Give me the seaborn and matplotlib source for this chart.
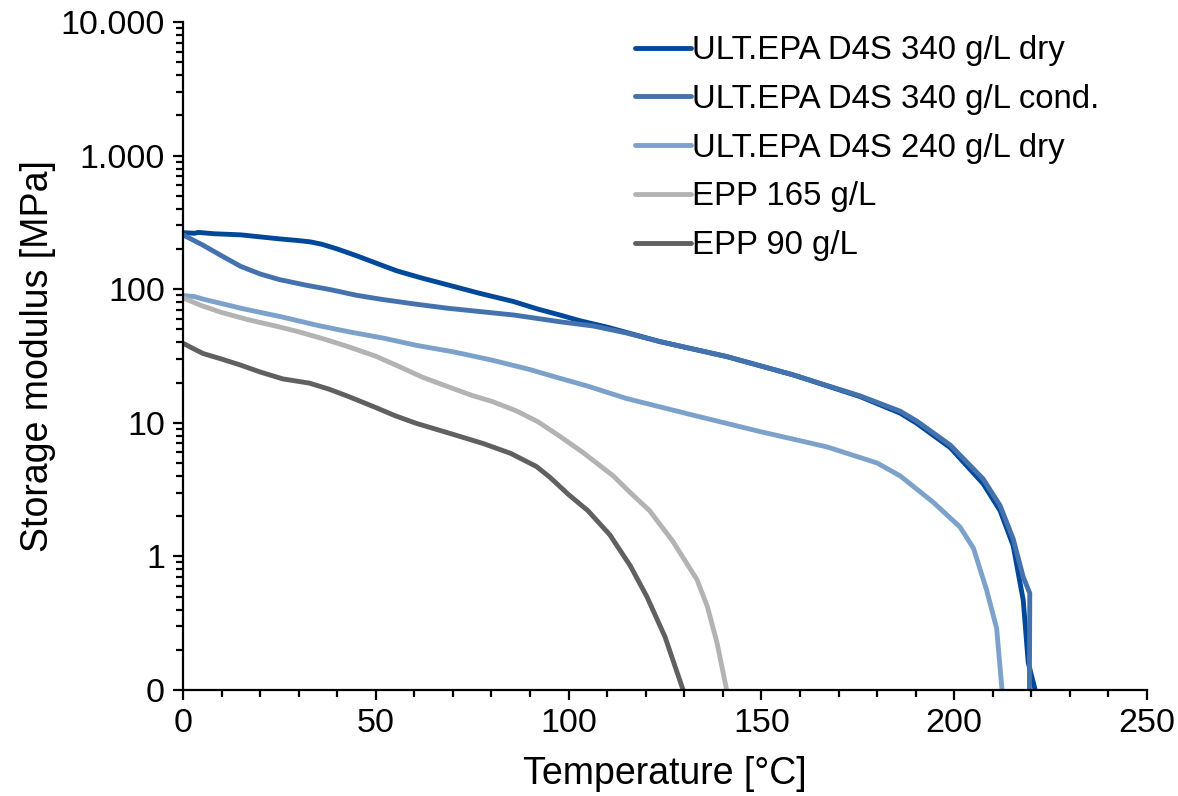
import matplotlib
matplotlib.use("Agg")
import matplotlib.pyplot as plt
import matplotlib.ticker as mticker
import seaborn as sns
import pandas as pd

# ---- data ----
series_names = [
    "ULT.EPA D4S 340 g/L dry",
    "ULT.EPA D4S 340 g/L cond.",
    "ULT.EPA D4S 240 g/L dry",
    "EPP 165 g/L",
    "EPP 90 g/L",
]
series_colors = ["#00489A", "#4472AE", "#7CA1CB", "#B3B3B3", "#606060"]

t_340_dry = [0, 3, 4, 8, 15, 25, 30, 33, 36, 40, 45, 50, 55.5, 62, 68.5, 77, 85.6, 92,
             97.8, 103, 110, 123.7, 141, 158.3, 175.6, 186, 190.3, 199, 207.5,
             211.9, 215.3, 217.9, 219.2, 221]
e_340_dry = [265, 262, 266, 260, 255, 238, 231, 226, 217, 200, 178, 157, 137, 121, 108,
             93, 81, 71, 64, 58, 52, 40.5, 31.3, 22.8, 15.7, 11.8, 9.9, 6.5, 3.5,
             2.2, 1.2, 0.47, 0.16, 0.1]

t_340_cond = [0, 5, 10, 15, 20, 25, 32, 38.4, 45, 51.4, 60, 68.6, 77, 85.9, 97.8,
              106.4, 115, 123.7, 141, 158.3, 175.6, 186, 190.3, 199, 207.5, 211.9,
              215.3, 217.9, 219.6, 219.5]
e_340_cond = [255, 215, 178, 148, 130, 118, 107, 99, 90, 84, 77.5, 72, 68, 64, 57,
              53, 47, 40.5, 31.3, 22.8, 15.9, 12.2, 10.3, 6.8, 3.8, 2.4,
              1.35, 0.7, 0.53, 0.1]

t_240_dry = [0, 3, 5, 15, 25.6, 35, 43, 52, 60.5, 70, 80, 90, 97.8, 105, 115, 132.3,
             149.6, 167, 180, 186, 194.5, 201.5, 205, 208.4, 211, 212.4]
e_240_dry = [89.6, 88, 84.6, 72, 62, 53.5, 48, 43, 38, 34, 29.5, 25, 21.5, 18.8,
             15.2, 11.4, 8.6, 6.6, 5.0, 4.0, 2.55, 1.66, 1.15, 0.56, 0.29, 0.1]

t_epp165 = [0, 5, 10, 17, 24, 30, 37, 43, 50, 56, 62, 69, 75, 80, 86.4, 92, 97.8,
            103.7, 111.6, 116, 121, 127, 133.3, 136, 138.5, 141]
e_epp165 = [86, 75, 67, 59, 53, 48, 42, 37, 31.5, 26.4, 22, 18.5, 16, 14.5, 12.3,
            10.2, 7.9, 6.0, 4.0, 3.0, 2.2, 1.3, 0.67, 0.42, 0.225, 0.1]

t_epp90 = [0, 2.6, 5.2, 10, 15, 20, 25.9, 32.8, 38, 43, 50, 55, 60.5, 70, 77.8, 85,
           91.7, 95.2, 100, 105, 110.7, 116, 120.3, 125, 129.7]
e_epp90 = [39.4, 36, 33, 30, 27, 24, 21.3, 19.8, 17.8, 15.7, 13, 11.3, 9.9, 8.2, 7.0,
           5.9, 4.7, 3.9, 2.9, 2.2, 1.45, 0.85, 0.5, 0.25, 0.1]

y_ticks = [0.1, 1, 10, 100, 1000, 10000]
y_tick_labels = ["0", "1", "10", "100", "1.000", "10.000"]
x_ticks = [0, 50, 100, 150, 200, 250]

# ---- build long-form table ----
temps = [t_340_dry, t_340_cond, t_240_dry, t_epp165, t_epp90]
mods = [e_340_dry, e_340_cond, e_240_dry, e_epp165, e_epp90]
frames = []
for name, t, e in zip(series_names, temps, mods):
    frames.append(pd.DataFrame({"Temperature": t, "Modulus": e, "Series": name}))
data = pd.concat(frames, ignore_index=True)

sns.set_style("ticks")
plt.rcParams["font.family"] = ["Liberation Sans", "DejaVu Sans"]
plt.rcParams["text.color"] = "black"
plt.rcParams["axes.labelcolor"] = "black"

fig = plt.figure(figsize=(11.78, 7.96), dpi=100)
ax = fig.add_axes([0.1553, 0.1332, 0.8184, 0.8392])

sns.lineplot(data=data, x="Temperature", y="Modulus", hue="Series",
             hue_order=series_names, palette=dict(zip(series_names, series_colors)),
             sort=False, estimator=None, units="Series", linewidth=3.5, ax=ax,
             legend=True)
for line in ax.get_lines():
    line.set_solid_joinstyle("round")
    line.set_solid_capstyle("butt")

ax.set_yscale("log")
ax.set_ylim(0.1, 10000)
ax.set_xlim(0, 250)
ax.set_yticks(y_ticks)
ax.yaxis.set_major_formatter(mticker.FixedFormatter(y_tick_labels))
ax.yaxis.set_minor_locator(mticker.LogLocator(base=10, subs=range(2, 10)))
ax.yaxis.set_minor_formatter(mticker.NullFormatter())
ax.set_xticks(x_ticks)
ax.xaxis.set_minor_locator(mticker.MultipleLocator(10))

for side in ["top", "right"]:
    ax.spines[side].set_visible(False)
for side in ["left", "bottom"]:
    ax.spines[side].set_linewidth(1.6)
    ax.spines[side].set_color("black")

ax.tick_params(which="major", direction="out", length=7, width=1.6,
               labelsize=24.5, colors="black", pad=6)
ax.tick_params(which="minor", direction="out", length=5, width=1.6, colors="black")

ax.set_xlabel("Temperature [°C]", fontsize=27, labelpad=12, color="black")
ax.set_ylabel("Storage modulus [MPa]", fontsize=27, labelpad=3, color="black")

handles, labels = ax.get_legend_handles_labels()
leg = ax.legend(handles, labels, loc="upper left", bbox_to_anchor=(0.455, 1.0),
                frameon=False, fontsize=23.7, handlelength=1.7, handletextpad=0.05,
                labelspacing=0.54, borderaxespad=0.0)
for line in leg.get_lines():
    line.set_linewidth(3.5)
    line.set_solid_capstyle("round")
for txt in leg.get_texts():
    txt.set_color("black")

fig.savefig("out.png", dpi=100)
